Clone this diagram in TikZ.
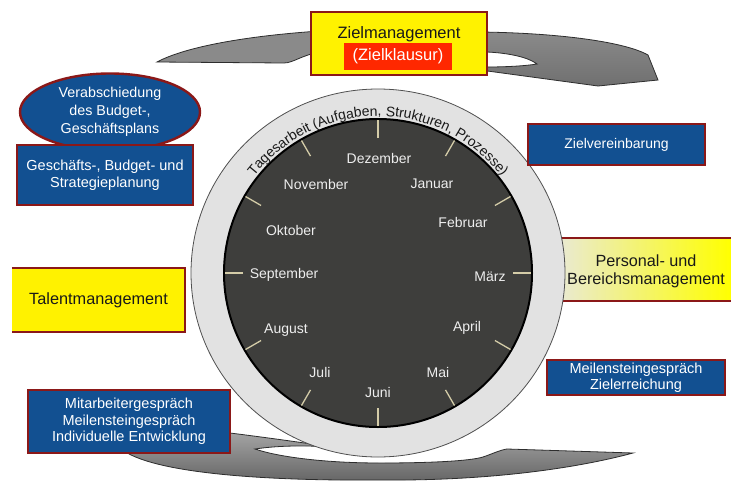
\documentclass[tikz,border=0pt]{standalone}
\usepackage{fontspec}
\setmainfont{Liberation Sans}
\usetikzlibrary{decorations.text,shapes.geometric}
\definecolor{boxblue}{RGB}{18,80,145}
\definecolor{boxred}{RGB}{139,24,24}
\definecolor{zielred}{RGB}{255,40,0}
\definecolor{ringfill}{RGB}{226,226,226}
\definecolor{ringline}{RGB}{80,80,80}
\definecolor{dialfill}{RGB}{62,62,60}
\definecolor{tickcol}{RGB}{212,204,168}
\definecolor{arrowfill}{RGB}{138,138,138}
\definecolor{arrowdark}{RGB}{112,112,112}
\definecolor{arrowline}{RGB}{45,45,45}
\definecolor{darktext}{RGB}{25,25,25}
\definecolor{monthtext}{RGB}{238,238,238}
\definecolor{persgray}{RGB}{232,232,228}
\begin{document}
\begin{tikzpicture}[x=1pt,y=-1pt,
  arrowpart/.style={draw=arrowline, line width=0.8pt, fill=arrowfill},
  bluebox/.style={draw=boxred, line width=2.4pt, fill=boxblue, text=white, align=center, inner sep=0pt, font=\fontsize{14.5}{16.5}\selectfont},
  yellowfill/.style={fill=yellow, inner sep=0pt, text=darktext, align=center},
  redline/.style={draw=boxred, line width=2.4pt},
  month/.style={text=monthtext, font=\fontsize{14}{16}\selectfont, inner sep=0pt},
  ticksty/.style={draw=tickcol, line width=1.3pt}
]
\useasboundingbox (0,0) rectangle (731,482);
\fill[white] (0,0) rectangle (731,482);

% top curved arrow
\filldraw[arrowpart] (157,62) .. controls (185,47) and (245,36) .. (320,31) -- (320,52) .. controls (302,55) and (293,63) .. (284,63) -- cycle;
\path[draw=arrowline, line width=0.8pt, top color=arrowfill, bottom color=arrowdark] (480,32) .. controls (560,33) and (625,42) .. (648,55) -- (658,80) -- (598,86) -- (480,70) -- (480,67) -- (487,67) .. controls (505,67) and (525,66) .. (537,64) .. controls (528,57) and (508,53) .. (487,52) -- (480,52) -- cycle;

% bottom curved band
\path[draw=arrowline, line width=0.8pt, top color=black!36, bottom color=black!60] (120,448) -- (230,433) .. controls (270,438) and (305,443) .. (332,447) .. controls (300,445) and (275,446) .. (255,449) .. controls (275,456) and (320,463) .. (380,463) .. controls (430,463) and (470,461) .. (483,457) .. controls (492,454) and (500,450) .. (507,449) -- (633,453) .. controls (570,470) and (480,481) .. (380,480) .. controls (270,481) and (150,474) .. (120,448) -- cycle;

% Personal- und Bereichsmanagement (behind the ring)
\node (pers) [left color=persgray, right color=yellow, minimum width=186pt, minimum height=63pt, inner sep=0pt] at (638,269.5) {};
\draw[redline] (pers.north west) -- (pers.north east);
\draw[redline] (pers.south west) -- (pers.south east);
\node (perstext) [text=darktext, align=center, font=\fontsize{16.2}{18}\selectfont] at (646,271) {Personal- und\\Bereichsmanagement};

% clock
\coordinate (c) at (378,273);
\filldraw[fill=ringfill, draw=ringline, line width=0.8pt] (c) ellipse [x radius=187, y radius=184];
\filldraw[fill=dialfill, draw=black, line width=2pt] (c) circle [radius=154];
\foreach \a in {0,30,...,330}
  \draw[ticksty, shift={(c)}] (\a:135) -- (\a:153);
\path[decorate, decoration={text along path, text align=center,
  text={|\fontsize{14}{14}\selectfont\color{darktext}|Tagesarbeit (Aufgaben, Strukturen, Prozesse)}}]
  ([shift={(c)}]-170:157) arc [start angle=-170, end angle=-10, radius=157];

\node (dez) [month] at (379,158) {Dezember};
\node (nov) [month] at (316,184) {November};
\node (jan) [month] at (432,184) {Januar};
\node (feb) [month] at (463,222) {Februar};
\node (okt) [month] at (291,230) {Oktober};
\node (sep) [month] at (284,275) {September};
\node (mar) [month] at (490,277) {März};
\node (aug) [month] at (286,330) {August};
\node (apr) [month] at (467,328) {April};
\node (jul) [month] at (320,372) {Juli};
\node (mai) [month] at (438,372) {Mai};
\node (jun) [month] at (378,392) {Juni};

% Zielmanagement
\node (ziel) [yellowfill, draw=boxred, line width=2.4pt, minimum width=176pt, minimum height=63pt] at (399,43.5) {};
\node (zieltext) [text=darktext, font=\fontsize{16.5}{18}\selectfont] at (399,34) {Zielmanagement};
\node (klausur) [fill=zielred, text=white, minimum width=108pt, minimum height=27pt, inner sep=0pt, font=\fontsize{16.5}{18}\selectfont] at (398,56.5) {(Zielklausur)};

% left side
\node (verab) [bluebox, ellipse, minimum width=180pt, minimum height=77pt, font=\fontsize{14.3}{18}\selectfont] at (110,112) {Verabschiedung\\des Budget-,\\Geschäftsplans};
\node (planung) [bluebox, minimum width=176pt, minimum height=60pt, font=\fontsize{14.5}{17}\selectfont] at (105,175) {Geschäfts-, Budget- und\\Strategieplanung};
\node (talent) [yellowfill, minimum width=173pt, minimum height=64pt, font=\fontsize{16.3}{18}\selectfont] at (98.5,300) {Talentmanagement};
\draw[redline] (talent.north west) -- (talent.north east) -- (talent.south east) -- (talent.south west);
\node (mitarb) [bluebox, minimum width=202pt, minimum height=63pt] at (129,421.5) {Mitarbeitergespräch\\Meilensteingespräch\\Individuelle Entwicklung};

% right side
\node (zielv) [bluebox, minimum width=177pt, minimum height=41pt, font=\fontsize{14}{16}\selectfont] at (616.5,144.5) {Zielvereinbarung};
\node (meilen) [bluebox, minimum width=178pt, minimum height=35pt, font=\fontsize{14.5}{16}\selectfont] at (636,377.5) {Meilensteingespräch\\Zielerreichung};
\end{tikzpicture}
\end{document}
